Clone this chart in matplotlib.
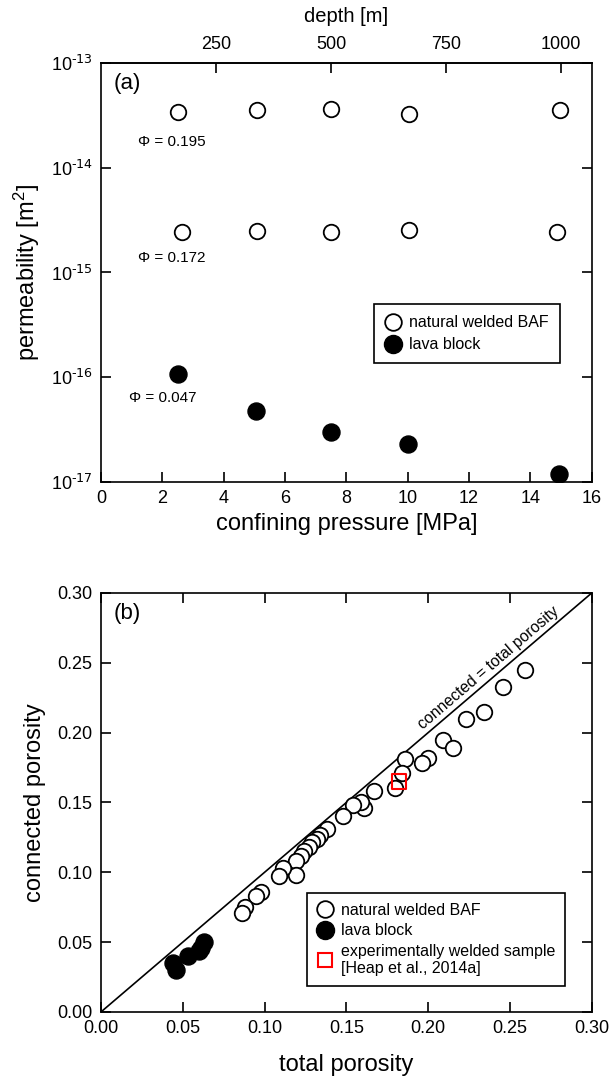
import matplotlib
matplotlib.use("Agg")
import matplotlib.pyplot as plt
import numpy as np
from matplotlib.ticker import LogLocator, FuncFormatter, NullLocator, MultipleLocator, FormatStrFormatter
from matplotlib.lines import Line2D

plt.rcParams["font.family"] = ["Liberation Sans", "DejaVu Sans"]
plt.rcParams["mathtext.default"] = "regular"

# ---- (a) permeability vs confining pressure ----
pressure_195 = [2.5, 5.07, 7.5, 10.04, 14.95]
perm_195 = [3.4e-14, 3.56e-14, 3.62e-14, 3.27e-14, 3.56e-14]
pressure_172 = [2.63, 5.07, 7.5, 10.04, 14.87]
perm_172 = [2.42e-15, 2.49e-15, 2.42e-15, 2.53e-15, 2.44e-15]
pressure_lava = [2.5, 5.04, 7.5, 10.0, 14.92]
perm_lava = [1.08e-16, 4.71e-17, 2.99e-17, 2.30e-17, 1.19e-17]
depth_ticks = [250, 500, 750, 1000]
phi_labels = ["Φ = 0.195", "Φ = 0.172", "Φ = 0.047"]

# ---- (b) connected vs total porosity ----
total_baf = [0.259, 0.246, 0.234, 0.223, 0.209, 0.215, 0.200, 0.196, 0.186, 0.184,
             0.180, 0.167, 0.161, 0.159, 0.154, 0.148, 0.138, 0.134, 0.132, 0.129,
             0.127, 0.124, 0.122, 0.119, 0.119, 0.111, 0.109, 0.098, 0.095, 0.088,
             0.086]
conn_baf = [0.245, 0.233, 0.215, 0.210, 0.195, 0.189, 0.182, 0.178, 0.181, 0.171,
            0.160, 0.158, 0.146, 0.150, 0.148, 0.140, 0.131, 0.127, 0.124, 0.122,
            0.118, 0.115, 0.112, 0.108, 0.098, 0.103, 0.097, 0.086, 0.083, 0.075,
            0.071]
total_lava = [0.063, 0.061, 0.060, 0.053, 0.044, 0.046]
conn_lava = [0.050, 0.046, 0.044, 0.040, 0.035, 0.030]
total_exp = [0.182]
conn_exp = [0.165]

LW = 1.2
fig = plt.figure(figsize=(6.12, 10.8), dpi=100)
ax1 = fig.add_axes([0.165, 0.5537, 0.802, 0.388])
ax2 = fig.add_axes([0.165, 0.0630, 0.802, 0.388])

circ_kw = dict(s=125, facecolors="white", edgecolors="black", linewidths=1.3, zorder=3)
fill_kw = dict(s=150, facecolors="black", edgecolors="black", linewidths=1.0, zorder=3)


def decade_label(v, pos):
    n = int(round(np.log10(v)))
    return r"10$^{\text{%d}}$" % n


ax1.scatter(pressure_195, perm_195, **circ_kw)
ax1.scatter(pressure_172, perm_172, **circ_kw)
ax1.scatter(pressure_lava, perm_lava, **fill_kw)
ax1.set_yscale("log")
ax1.set_xlim(0, 16)
ax1.set_ylim(1e-17, 1e-13)
ax1.xaxis.set_major_locator(MultipleLocator(2))
ax1.yaxis.set_major_locator(LogLocator(base=10, numticks=10))
ax1.yaxis.set_major_formatter(FuncFormatter(decade_label))
ax1.yaxis.set_minor_locator(NullLocator())
ax1.tick_params(axis="both", which="major", direction="in", length=7, width=LW,
                labelsize=13, right=True, top=False, pad=6)
ax1.set_xlabel("confining pressure [MPa]", fontsize=17, labelpad=4)
ax1.set_ylabel("permeability [m$^2$]", fontsize=17, labelpad=6)
for sp in ax1.spines.values():
    sp.set_linewidth(LW)

sec = ax1.secondary_xaxis("top", functions=(lambda p: p / 0.015, lambda d: d * 0.015))
sec.set_xticks(depth_ticks)
sec.tick_params(direction="in", length=7, width=LW, labelsize=13, pad=7)
sec.set_xlabel("depth [m]", fontsize=14.5, labelpad=10)
sec.spines["top"].set_linewidth(LW)

ax1.text(0.025, 0.975, "(a)", transform=ax1.transAxes, fontsize=16, va="top", ha="left")
ax1.text(1.2, 1.77e-14, phi_labels[0], fontsize=11, va="center", ha="left")
ax1.text(1.2, 1.39e-15, phi_labels[1], fontsize=11, va="center", ha="left")
ax1.text(0.9, 6.3e-17, phi_labels[2], fontsize=11, va="center", ha="left")

h_open = Line2D([], [], ls="none", marker="o", ms=12, mfc="white", mec="black", mew=1.3)
h_fill = Line2D([], [], ls="none", marker="o", ms=13, mfc="black", mec="black")
leg1 = ax1.legend([h_open, h_fill], ["natural welded BAF", "lava block"],
                  loc="upper right", bbox_to_anchor=(0.935, 0.425), borderaxespad=0,
                  fontsize=11.5, fancybox=False, edgecolor="black", framealpha=1,
                  handlelength=1.0, handletextpad=0.5, borderpad=0.7, labelspacing=0.45)
leg1.get_frame().set_linewidth(LW)

# ---- panel (b) ----
ax2.plot([0, 0.3], [0, 0.3], color="black", lw=LW, zorder=2)
ax2.scatter(total_baf, conn_baf, **circ_kw)
ax2.scatter(total_lava, conn_lava, **fill_kw)
ax2.scatter(total_exp, conn_exp, s=105, marker="s", facecolors="none",
            edgecolors="red", linewidths=1.5, zorder=4)
ax2.set_xlim(0, 0.3)
ax2.set_ylim(0, 0.3)
ax2.xaxis.set_major_locator(MultipleLocator(0.05))
ax2.yaxis.set_major_locator(MultipleLocator(0.05))
ax2.xaxis.set_major_formatter(FormatStrFormatter("%.2f"))
ax2.yaxis.set_major_formatter(FormatStrFormatter("%.2f"))
ax2.tick_params(axis="both", direction="in", length=7, width=LW, labelsize=13,
                right=True, top=True, pad=6)
ax2.set_xlabel("total porosity", fontsize=17, labelpad=12)
ax2.set_ylabel("connected porosity", fontsize=17, labelpad=8)
for sp in ax2.spines.values():
    sp.set_linewidth(LW)
ax2.text(0.025, 0.975, "(b)", transform=ax2.transAxes, fontsize=16, va="top", ha="left")
ax2.text(0.237, 0.246, "connected = total porosity", fontsize=11.3, rotation=45,
         rotation_mode="anchor", transform_rotates_text=True, ha="center", va="center")

h_sq = Line2D([], [], ls="none", marker="s", ms=10, mfc="none", mec="red", mew=1.5)
leg2 = ax2.legend([h_open, h_fill, h_sq],
                  ["natural welded BAF", "lava block",
                   "experimentally welded sample\n[Heap et al., 2014a]"],
                  loc="upper right", bbox_to_anchor=(0.945, 0.284), borderaxespad=0,
                  fontsize=11.5, fancybox=False, edgecolor="black", framealpha=1,
                  handlelength=1.0, handletextpad=0.5, borderpad=0.6, labelspacing=0.35)
leg2.get_frame().set_linewidth(LW)

fig.savefig("out.png", dpi=100)
